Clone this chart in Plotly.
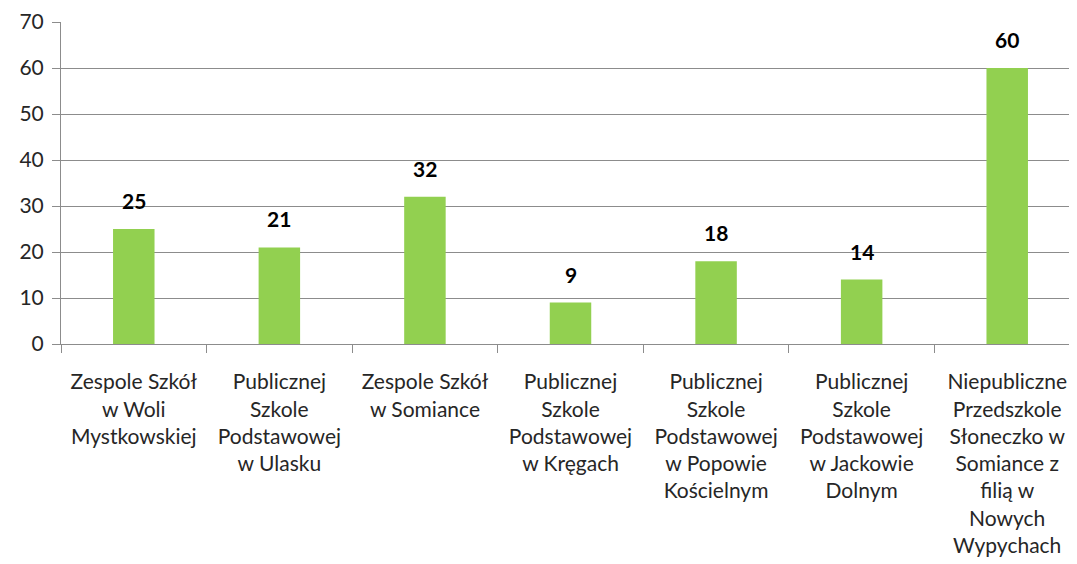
import plotly.graph_objects as go

categories = [
    "Zespole Szkół<br>w Woli<br>Mystkowskiej",
    "Publicznej<br>Szkole<br>Podstawowej<br>w Ulasku",
    "Zespole Szkół<br>w Somiance",
    "Publicznej<br>Szkole<br>Podstawowej<br>w Kręgach",
    "Publicznej<br>Szkole<br>Podstawowej<br>w Popowie<br>Kościelnym",
    "Publicznej<br>Szkole<br>Podstawowej<br>w Jackowie<br>Dolnym",
    "Niepubliczne<br>Przedszkole<br>Słoneczko w<br>Somiance z<br>filią w<br>Nowych<br>Wypychach",
]
values = [25, 21, 32, 9, 18, 14, 60]
y_ticks = [0, 10, 20, 30, 40, 50, 60, 70]

FONT = "Lato, 'Liberation Sans', sans-serif"
GRID = "#8c8c8c"
TEXT = "#262626"

fig = go.Figure()
fig.add_trace(go.Bar(
    x=categories, y=values,
    marker=dict(color="#92D050", line=dict(width=0)),
    width=0.285,
    hoverinfo="x+y",
))

for c, v in zip(categories, values):
    fig.add_annotation(
        x=c, y=v, text=f"<b>{v}</b>", showarrow=False,
        yanchor="bottom", yshift=14,
        font=dict(family=FONT, size=21, color="#000000"),
    )

fig.update_layout(
    width=1077, height=564,
    margin=dict(l=53, r=5, t=14, b=228),
    paper_bgcolor="white", plot_bgcolor="white",
    showlegend=False,
    font=dict(family=FONT, size=20, color=TEXT),
)
fig.update_yaxes(
    range=[0, 70], tickvals=y_ticks,
    showgrid=True, gridcolor=GRID, gridwidth=1,
    showline=True, linecolor=GRID, linewidth=1,
    ticks="outside", ticklen=8, tickcolor=GRID,
    tickfont=dict(family=FONT, size=21, color=TEXT),
    ticklabelstandoff=4,
    zeroline=False, automargin=False,
)
fig.update_xaxes(
    type="category",
    showline=True, linecolor=GRID, linewidth=1,
    ticks="outside", ticklen=8, tickcolor=GRID, tickson="boundaries",
    tickfont=dict(family=FONT, size=21, color=TEXT),
    ticklabelstandoff=19,
    tickangle=0, automargin=False,
    range=[-0.5, 6.5],
)

fig.write_html("out.html")
